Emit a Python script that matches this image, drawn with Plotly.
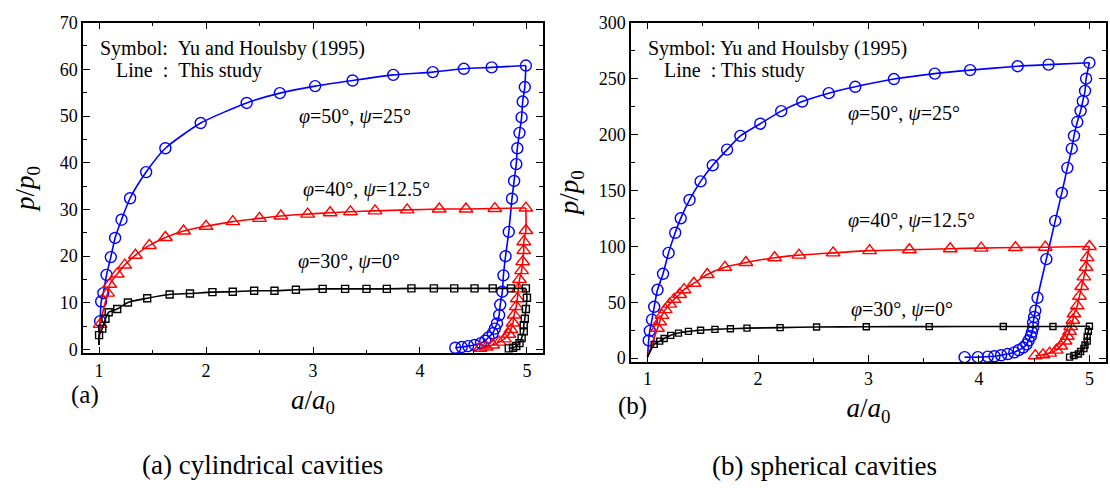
import plotly.graph_objects as go

# ---------------- data: (a) cylindrical cavities ----------------
cyl_phi50_load_x = [1.01, 1.02, 1.04, 1.07, 1.11, 1.15, 1.21, 1.29, 1.44, 1.62, 1.95, 2.38, 2.69, 3.02, 3.37, 3.75, 4.12, 4.41, 4.67, 4.99]
cyl_phi50_load_y = [6.1, 10.3, 12.1, 16.0, 19.8, 23.9, 27.8, 32.4, 38.0, 43.1, 48.5, 52.8, 54.9, 56.4, 57.6, 58.8, 59.4, 60.1, 60.4, 60.8]
cyl_phi50_unload_x = [4.98, 4.96, 4.95, 4.93, 4.91, 4.90, 4.88, 4.86, 4.83, 4.80, 4.78, 4.77, 4.75, 4.74, 4.72, 4.70, 4.68, 4.64, 4.61, 4.57, 4.51, 4.45, 4.39, 4.33]
cyl_phi50_unload_y = [56.2, 53.1, 49.7, 46.4, 43.1, 39.7, 36.1, 32.3, 25.2, 20.0, 15.9, 12.4, 9.6, 7.4, 5.6, 4.5, 3.5, 2.6, 1.9, 1.4, 1.0, 0.75, 0.55, 0.4]

cyl_phi40_load_x = [1.01, 1.08, 1.10, 1.17, 1.24, 1.34, 1.47, 1.62, 1.79, 2.00, 2.25, 2.50, 2.70, 2.95, 3.16, 3.35, 3.58, 3.88, 4.18, 4.43, 4.70, 4.99]
cyl_phi40_load_y = [5.4, 12.1, 14.0, 16.2, 18.1, 20.2, 22.3, 24.0, 25.4, 26.4, 27.4, 28.1, 28.6, 29.0, 29.3, 29.5, 29.7, 29.9, 30.1, 30.1, 30.2, 30.3]
cyl_phi40_unload_x = [4.99, 4.97, 4.97, 4.96, 4.95, 4.93, 4.92, 4.91, 4.90, 4.88, 4.87, 4.85, 4.83, 4.79, 4.74, 4.68, 4.62, 4.56]
cyl_phi40_unload_y = [25.5, 23.1, 21.2, 18.8, 16.9, 15.0, 13.0, 10.9, 9.2, 7.4, 5.7, 4.3, 3.3, 2.3, 1.6, 1.0, 0.55, 0.3]

cyl_phi30_load_x = [1.00, 1.03, 1.06, 1.09, 1.17, 1.27, 1.45, 1.66, 1.85, 2.06, 2.25, 2.45, 2.64, 2.84, 3.09, 3.30, 3.50, 3.69, 3.92, 4.13, 4.32, 4.51, 4.68, 4.85, 4.99]
cyl_phi30_load_y = [3.1, 4.5, 6.6, 8.0, 8.7, 10.1, 11.0, 11.8, 12.0, 12.3, 12.4, 12.6, 12.6, 12.8, 13.0, 13.0, 13.0, 13.0, 13.1, 13.1, 13.1, 13.1, 13.1, 13.1, 13.1]
cyl_phi30_unload_x = [5.00, 4.99, 4.98, 4.97, 4.97, 4.95, 4.93, 4.90, 4.87, 4.83]
cyl_phi30_unload_y = [11.1, 8.7, 6.6, 5.2, 3.9, 2.5, 1.4, 0.76, 0.41, 0.27]

# ---------------- data: (b) spherical cavities ----------------
sph_phi50_load_x = [1.01, 1.02, 1.04, 1.06, 1.09, 1.14, 1.19, 1.25, 1.30, 1.38, 1.48, 1.59, 1.72, 1.84, 2.02, 2.21, 2.40, 2.64, 2.88, 3.23, 3.60, 3.92, 4.35, 4.63, 5.00]
sph_phi50_load_y = [15.8, 24.4, 34.4, 45.9, 61.1, 75.4, 94.1, 112.1, 125.0, 141.4, 158.0, 172.4, 186.4, 198.7, 209.6, 220.8, 229.4, 236.9, 242.6, 249.5, 254.4, 257.5, 261.0, 262.4, 264.1]
sph_phi50_unload_x = [4.97, 4.96, 4.94, 4.92, 4.89, 4.86, 4.84, 4.80, 4.75, 4.69, 4.61, 4.53, 4.51, 4.50, 4.49, 4.49, 4.48, 4.47, 4.45, 4.43, 4.40, 4.36, 4.32, 4.26, 4.20, 4.14, 4.08, 3.99, 3.87]
sph_phi50_unload_y = [249.8, 238.9, 229.7, 221.1, 211.1, 198.7, 187.3, 170.1, 147.7, 122.7, 88.5, 54.0, 42.5, 36.8, 31.9, 27.3, 23.3, 19.6, 15.8, 12.3, 9.5, 7.2, 5.2, 3.7, 2.6, 1.7, 1.4, 0.9, 0.9]

sph_phi40_load_x = [1.09, 1.11, 1.13, 1.16, 1.20, 1.24, 1.29, 1.33, 1.42, 1.54, 1.70, 1.89, 2.15, 2.37, 2.68, 3.01, 3.37, 3.74, 4.02, 4.33, 4.60, 5.00]
sph_phi40_load_y = [26.7, 32.5, 38.2, 43.4, 48.3, 52.6, 56.9, 61.2, 67.0, 74.8, 81.2, 85.5, 89.8, 92.1, 94.1, 96.1, 96.9, 97.8, 98.4, 98.9, 99.2, 99.8]
sph_phi40_unload_x = [4.98, 4.97, 4.95, 4.93, 4.91, 4.89, 4.86, 4.85, 4.83, 4.82, 4.80, 4.78, 4.74, 4.70, 4.64, 4.58, 4.51]
sph_phi40_unload_y = [89.9, 81.3, 72.7, 64.1, 55.4, 46.8, 39.7, 33.9, 28.2, 23.9, 19.6, 15.3, 10.9, 7.2, 4.5, 3.0, 2.2]

sph_phi30_load_x = [1.06, 1.11, 1.15, 1.21, 1.28, 1.37, 1.48, 1.61, 1.75, 1.90, 2.20, 2.53, 2.98, 3.55, 4.22, 4.67, 5.00]
sph_phi30_load_y = [12.3, 15.2, 17.5, 20.4, 22.4, 23.9, 24.9, 25.7, 26.3, 26.8, 27.3, 27.8, 28.1, 28.2, 28.3, 28.3, 28.5]
sph_phi30_unload_x = [4.99, 4.98, 4.98, 4.96, 4.95, 4.92, 4.90, 4.86, 4.82]
sph_phi30_unload_y = [23.9, 19.5, 15.2, 11.8, 8.6, 6.0, 3.7, 2.3, 0.9]

start_x, start_y = 1.0, 1.0  # initial state p/p0 = 1 at a/a0 = 1

curve_labels = ["<i>φ</i>=50°, <i>ψ</i>=25°", "<i>φ</i>=40°, <i>ψ</i>=12.5°", "<i>φ</i>=30°, <i>ψ</i>=0°"]
cyl_label_pos = [(3.39, 50.0), (3.50, 34.3), (3.34, 18.8)]
sph_label_pos = [(3.32, 219.0), (3.39, 122.7), (3.30, 43.9)]

FONT = "Liberation Serif"
BLUE, RED, BLACK = "#0000ff", "#ff0000", "#000000"

fig = go.Figure()

series = [
    ("x", "y", cyl_phi50_load_x, cyl_phi50_load_y, cyl_phi50_unload_x, cyl_phi50_unload_y, BLUE, "circle-open", 11),
    ("x", "y", cyl_phi40_load_x, cyl_phi40_load_y, cyl_phi40_unload_x, cyl_phi40_unload_y, RED, "triangle-up-open", 12),
    ("x", "y", cyl_phi30_load_x, cyl_phi30_load_y, cyl_phi30_unload_x, cyl_phi30_unload_y, BLACK, "square-open", 7),
    ("x2", "y2", sph_phi50_load_x, sph_phi50_load_y, sph_phi50_unload_x, sph_phi50_unload_y, BLUE, "circle-open", 11),
    ("x2", "y2", sph_phi40_load_x, sph_phi40_load_y, sph_phi40_unload_x, sph_phi40_unload_y, RED, "triangle-up-open", 12),
    ("x2", "y2", sph_phi30_load_x, sph_phi30_load_y, sph_phi30_unload_x, sph_phi30_unload_y, BLACK, "square-open", 6),
]

for xa, ya, lx, ly, ux, uy, col, sym, size in series:
    # line: this study (loading + unloading)
    fig.add_trace(go.Scatter(x=[start_x] + lx, y=[start_y] + ly, xaxis=xa, yaxis=ya, mode="lines",
                             line=dict(color=col, width=1.6, shape="spline", smoothing=0.6),
                             showlegend=False, hoverinfo="skip"))
    fig.add_trace(go.Scatter(x=lx[-1:] + ux, y=ly[-1:] + uy, xaxis=xa, yaxis=ya, mode="lines",
                             line=dict(color=col, width=1.6, shape="spline", smoothing=0.6),
                             showlegend=False, hoverinfo="skip"))
    # symbols: Yu and Houlsby (1995)
    fig.add_trace(go.Scatter(x=lx + ux, y=ly + uy, xaxis=xa, yaxis=ya, mode="markers",
                             marker=dict(symbol=sym, size=size, color=col, line=dict(width=1.4, color=col)),
                             showlegend=False))

axis_common = dict(showline=True, linecolor="black", linewidth=1.5, mirror="allticks",
                   ticks="inside", ticklen=7, tickwidth=1.3, tickcolor="black",
                   showgrid=False, zeroline=False,
                   tickfont=dict(family=FONT, size=18, color="black"))
minor_common = dict(ticks="inside", ticklen=4, tickcolor="black", tickwidth=1.2)
title_font = dict(family=FONT, size=27, color="black")

fig.update_layout(
    width=1110, height=488,
    margin=dict(l=0, r=0, t=0, b=0),
    paper_bgcolor="white", plot_bgcolor="white",
    font=dict(family=FONT, color="black"),
    xaxis=dict(domain=[83 / 1110, 543 / 1110], anchor="y", range=[0.85, 5.15], dtick=1, tick0=0,
               minor=dict(dtick=0.5, **minor_common),
               title=dict(text="<i>a</i>/<i>a</i><sub>0</sub>", font=title_font, standoff=10),
               **axis_common),
    yaxis=dict(domain=[1 - 355 / 488, 1 - 13 / 488], anchor="x", range=[-0.8, 70], dtick=10, tick0=0,
               minor=dict(dtick=5, **minor_common),
               title=dict(text="<i>p</i>/<i>p</i><sub>0</sub>", font=title_font, standoff=17),
               **axis_common),
    xaxis2=dict(domain=[631 / 1110, 1106 / 1110], anchor="y2", range=[0.85, 5.15], dtick=1, tick0=0,
                minor=dict(dtick=0.5, **minor_common),
                title=dict(text="<i>a</i>/<i>a</i><sub>0</sub>", font=title_font, standoff=10),
                **axis_common),
    yaxis2=dict(domain=[1 - 364 / 488, 1 - 13 / 488], anchor="x2", range=[-3.5, 300], dtick=50, tick0=0,
                minor=dict(dtick=25, **minor_common),
                title=dict(text="<i>p</i>/<i>p</i><sub>0</sub>", font=title_font, standoff=12),
                **axis_common),
)

def note(x, y, text, size, xanchor="center", xref="paper", yref="paper"):
    return dict(xref=xref, yref=yref, x=x, y=y, xanchor=xanchor, yanchor="middle", text=text,
                showarrow=False, font=dict(family=FONT, size=size, color="black"))

annotations = [
    note(98 / 1110, 1 - 40 / 488, "Symbol:\u00a0\u00a0Yu and Houlsby (1995)", 20, "left"),
    note(114 / 1110, 1 - 63 / 488, "Line\u00a0\u00a0:\u00a0\u00a0This study", 20, "left"),
    note(646 / 1110, 1 - 40 / 488, "Symbol: Yu and Houlsby (1995)", 20, "left"),
    note(662 / 1110, 1 - 63 / 488, "Line\u00a0\u00a0: This study", 20, "left"),
]
for lab, (px_, py_) in zip(curve_labels, cyl_label_pos):
    annotations.append(note(px_, py_, lab, 20, "center", "x", "y"))
for lab, (px_, py_) in zip(curve_labels, sph_label_pos):
    annotations.append(note(px_, py_, lab, 20, "center", "x2", "y2"))
annotations += [
    note(85 / 1110, 1 - 398 / 488, "(a)", 25),
    note(633 / 1110, 1 - 409 / 488, "(b)", 25),
    note(262 / 1110, 1 - 470 / 488, "(a) cylindrical cavities", 27),
    note(824 / 1110, 1 - 471 / 488, "(b) spherical cavities", 27),
]
fig.update_layout(annotations=annotations)

fig.write_html("out.html")
